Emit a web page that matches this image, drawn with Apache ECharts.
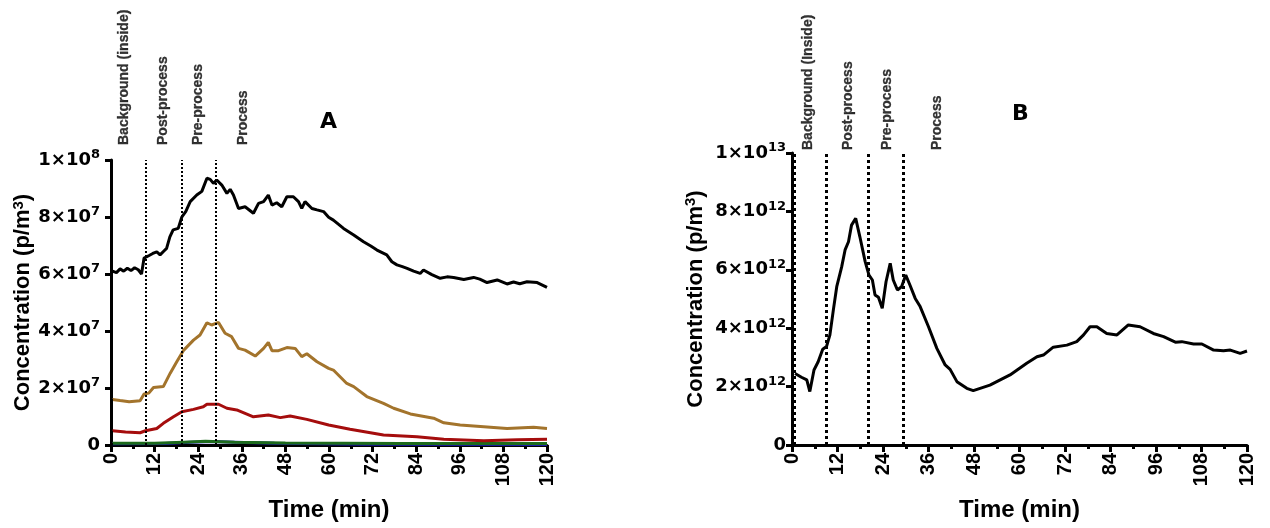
<!DOCTYPE html>
<html>
<head>
<meta charset="utf-8">
<script src="https://cdn.jsdelivr.net/npm/echarts@6/dist/echarts.min.js"></script>
<style>
  html, body { margin: 0; padding: 0; background: #fff; }
  #chart { width: 1270px; height: 528px; }
</style>
</head>
<body>
<div id="chart"></div>
<script>
// 데이터 (time in min, value in p/m3)
var xTicks = [0, 12, 24, 36, 48, 60, 72, 84, 96, 108, 120];

var phaseNames = ['Background (inside)', 'Post-process', 'Pre-process', 'Process'];
var phaseNamesB = ['Background (Inside)', 'Post-process', 'Pre-process', 'Process'];
var phaseLabelTimeA = [3.6, 14.3, 24, 36.4];
var phaseLabelTimeB = [4.2, 14.8, 25.1, 38.3];
var phaseLineA = [0.3, 9.5, 19.5, 28.7];
var phaseLineB = [0.7, 9.1, 20.2, 29.3];

var blackA = [
  [0.4, 6.1e7], [1.5, 6.05e7], [2.5, 6.18e7], [3.5, 6.1e7], [4.5, 6.2e7], [5.5, 6.12e7], [6.5, 6.22e7],
  [7.5, 6.15e7], [8.4, 6.0e7], [9.1, 6.56e7], [10.5, 6.65e7], [11.5, 6.72e7], [12.6, 6.78e7],
  [13.5, 6.67e7], [14.5, 6.8e7], [15.3, 6.9e7], [16.2, 7.3e7], [17.1, 7.55e7], [18.5, 7.6e7],
  [19.5, 8.0e7], [20.6, 8.2e7], [21.8, 8.54e7], [23.6, 8.77e7], [25, 8.9e7], [26.4, 9.36e7],
  [27.3, 9.32e7], [28.2, 9.18e7], [29.1, 9.3e7], [30.5, 9.12e7], [31.9, 8.83e7], [32.8, 8.97e7],
  [33.7, 8.77e7], [35.1, 8.3e7], [36.9, 8.36e7], [39.2, 8.13e7], [40.6, 8.48e7], [42, 8.54e7],
  [43.3, 8.77e7], [44.3, 8.42e7], [45.6, 8.5e7], [47, 8.36e7], [48.4, 8.71e7], [50.2, 8.71e7],
  [51.6, 8.54e7], [52.5, 8.3e7], [53.4, 8.54e7], [55.3, 8.3e7], [56.7, 8.25e7], [58.5, 8.19e7],
  [59.9, 7.99e7], [61.2, 7.89e7], [64, 7.6e7], [66.8, 7.37e7], [69.5, 7.13e7], [71.5, 6.98e7],
  [73.2, 6.84e7], [75.9, 6.67e7], [77.3, 6.43e7], [78.7, 6.32e7], [80.2, 6.26e7], [81.5, 6.2e7],
  [83.3, 6.1e7], [85.1, 6.02e7], [86, 6.14e7], [88.3, 5.98e7], [90.6, 5.85e7], [92.5, 5.9e7],
  [94.3, 5.88e7], [97.1, 5.81e7], [99.8, 5.88e7], [101.5, 5.82e7], [103.5, 5.7e7], [106.3, 5.79e7],
  [109, 5.65e7], [110.8, 5.72e7], [112.5, 5.66e7], [114.5, 5.73e7], [117.3, 5.7e7], [120, 5.53e7]
];

var brownA = [
  [0.4, 1.6e7], [2.5, 1.56e7], [5, 1.52e7], [8, 1.55e7], [9.1, 1.79e7], [10.4, 1.82e7],
  [11.7, 2.02e7], [14.4, 2.05e7], [16.3, 2.52e7], [18.1, 2.92e7], [19.9, 3.31e7], [22.7, 3.68e7],
  [24.5, 3.86e7], [26.4, 4.29e7], [27.7, 4.21e7], [29.6, 4.3e7], [31.4, 3.92e7], [33.2, 3.8e7],
  [35.1, 3.39e7], [36.9, 3.33e7], [39.7, 3.12e7], [42, 3.39e7], [43.3, 3.6e7], [44.3, 3.31e7],
  [46.1, 3.31e7], [48.4, 3.42e7], [50.7, 3.39e7], [52.5, 3.1e7], [53.9, 3.2e7], [56.7, 2.92e7],
  [59.9, 2.69e7], [61.2, 2.63e7], [64.9, 2.16e7], [66.8, 2.05e7], [70.4, 1.7e7], [75, 1.46e7],
  [77.8, 1.29e7], [82.4, 1.09e7], [88.8, 0.94e7], [91.6, 0.78e7], [96.1, 0.7e7], [102.6, 0.64e7],
  [109, 0.58e7], [116.3, 0.62e7], [120, 0.58e7]
];

var redA = [
  [0.4, 0.5e7], [4, 0.46e7], [8, 0.43e7], [9.5, 0.5e7], [12.6, 0.58e7], [14.4, 0.76e7],
  [17.2, 0.99e7], [19.5, 1.17e7], [22.7, 1.25e7], [25.4, 1.34e7], [26.4, 1.43e7], [29.6, 1.43e7],
  [31.9, 1.29e7], [34.6, 1.23e7], [39.2, 0.99e7], [43.3, 1.05e7], [46.6, 0.96e7], [49.3, 1.02e7],
  [53.9, 0.9e7], [59.9, 0.7e7], [65.8, 0.55e7], [75, 0.35e7], [84.2, 0.29e7], [91.6, 0.2e7],
  [102.6, 0.15e7], [111.8, 0.18e7], [120, 0.2e7]
];

var blueA = [
  [0.4, 0.04e7], [15, 0.05e7], [22, 0.1e7], [28, 0.12e7], [34, 0.1e7], [45, 0.06e7],
  [70, 0.03e7], [120, 0.02e7]
];

var greenA = [
  [0.4, 0.06e7], [12, 0.06e7], [20, 0.1e7], [26, 0.13e7], [34, 0.1e7], [48, 0.07e7],
  [80, 0.05e7], [120, 0.05e7]
];

var blackB = [
  [0.8, 2.45e12], [2.5, 2.32e12], [3.9, 2.23e12], [4.7, 1.83e12], [5.8, 2.57e12], [6.9, 2.85e12],
  [8.1, 3.28e12], [9.1, 3.37e12], [10, 3.77e12], [10.9, 4.62e12], [11.8, 5.42e12], [13.1, 6.1e12],
  [14, 6.68e12], [14.9, 6.96e12], [15.7, 7.53e12], [16.8, 7.76e12], [17.9, 7.13e12], [19.3, 6.28e12],
  [20.3, 5.82e12], [21.2, 5.65e12], [21.9, 5.14e12], [22.8, 5.06e12], [23.8, 4.68e12], [24.8, 5.59e12],
  [25.9, 6.22e12], [26.7, 5.65e12], [27.8, 5.31e12], [28.9, 5.42e12], [30, 5.82e12], [31.1, 5.48e12],
  [32.5, 5.02e12], [33.8, 4.74e12], [36, 4.05e12], [38.2, 3.31e12], [40.4, 2.74e12], [41.7, 2.59e12],
  [43.5, 2.17e12], [46.1, 1.94e12], [47.8, 1.86e12], [49.6, 1.94e12], [52.2, 2.05e12], [57.5, 2.4e12],
  [61.9, 2.8e12], [64.6, 3.02e12], [66.3, 3.08e12], [68.9, 3.35e12], [72.5, 3.42e12], [75.1, 3.54e12],
  [76.9, 3.77e12], [78.6, 4.05e12], [80.4, 4.05e12], [83, 3.82e12], [85.7, 3.77e12], [88.7, 4.11e12],
  [91.8, 4.05e12], [95.3, 3.82e12], [98, 3.71e12], [101.1, 3.52e12], [102.8, 3.54e12], [105.9, 3.46e12],
  [108.1, 3.46e12], [111.2, 3.25e12], [113.8, 3.23e12], [115.6, 3.25e12], [118.2, 3.14e12], [120, 3.22e12]
];

$ = window.$ || function (fn) { fn(); };

$(function () {

    var myChart = echarts.init(document.getElementById('chart'));

    var arial = 'Liberation Sans, Arial, sans-serif';
    var wide = 'DejaVu Sans, sans-serif';

    function sciLabel(v) {
        if (v === 0) return '{b|0}';
        var exp = Math.floor(Math.log10(v) + 1e-9);
        var m = Math.round(v / Math.pow(10, exp));
        return '{b|' + m + '×10}{s|' + exp + '}';
    }

    var richSci = {
        b: { fontSize: 18, fontWeight: 'bold', color: '#000', fontFamily: wide },
        s: { fontSize: 13, fontWeight: 'bold', color: '#000', fontFamily: wide, padding: [0, 0, 10, 0] }
    };

    function xAxisOpt(grid) {
        return {
            type: 'value', gridIndex: grid, min: 0, max: 120, interval: 12,
            axisLine: { lineStyle: { color: '#000', width: 3 } },
            axisTick: { length: 7, lineStyle: { color: '#000', width: 3 } },
            minorTick: { show: true, splitNumber: 2, length: 4, lineStyle: { color: '#000', width: 3 } },
            splitLine: { show: false },
            axisLabel: {
                rotate: 90, color: '#000', fontSize: 20, fontWeight: 'bold',
                fontFamily: arial, margin: 8,
                formatter: function (v) { return xTicks.indexOf(v) >= 0 ? String(v) : ''; }
            },
            name: 'Time (min)', nameLocation: 'middle', nameGap: 53,
            nameTextStyle: { color: '#000', fontSize: 24, fontWeight: 'bold', fontFamily: arial }
        };
    }

    function yAxisOpt(grid, max, offset, gap) {
        return {
            type: 'value', gridIndex: grid, min: 0, max: max, interval: max / 5,
            offset: offset,
            axisLine: { show: true, lineStyle: { color: '#000', width: 3 } },
            axisTick: { show: true, length: 6, lineStyle: { color: '#000', width: 3 } },
            splitLine: { show: false },
            axisLabel: { formatter: sciLabel, rich: richSci, margin: 6 },
            name: 'Concentration (p/m{s|3})', nameLocation: 'middle', nameRotate: 90, nameGap: gap,
            nameTextStyle: {
                color: '#000', fontSize: 22, fontWeight: 'bold', fontFamily: arial,
                rich: {
                    s: { fontSize: 15, fontWeight: 'bold', color: '#000', fontFamily: arial, padding: [0, 0, 10, 0] }
                }
            }
        };
    }

    function phaseMarks(times, width) {
        return {
            silent: true, symbol: 'none',
            label: { show: false },
            lineStyle: { color: '#000', type: 'dotted', width: width },
            data: times.map(function (t) { return { xAxis: t }; })
        };
    }

    function phaseLabels(idx, times, names, top, dist) {
        return {
            type: 'scatter', xAxisIndex: idx, yAxisIndex: idx,
            symbolSize: 0, silent: true, clip: false, z: 5,
            data: times.map(function (t, i) { return { name: names[i], value: [t, top] }; }),
            label: {
                show: true, position: [0, -dist], rotate: 90,
                align: 'left', verticalAlign: 'middle',
                formatter: '{b}', color: '#000', fontSize: 14, fontWeight: 'bold', fontFamily: arial,
                textBorderColor: '#000', textBorderWidth: 0.3
            }
        };
    }

    function lineSeries(idx, data, color, width, z) {
        return {
            type: 'line', xAxisIndex: idx, yAxisIndex: idx, data: data,
            showSymbol: false, symbol: 'none', z: z,
            lineStyle: { color: color, width: width }, color: color
        };
    }

    option = {
        animation: false,
        backgroundColor: '#fff',
        title: [
            { text: 'A', left: 315, top: 106, textStyle: { fontSize: 22, fontWeight: 'bold', color: '#000', fontFamily: wide } },
            { text: 'B', left: 1007, top: 98, textStyle: { fontSize: 22, fontWeight: 'bold', color: '#000', fontFamily: wide } }
        ],
        grid: [
            { left: 111, right: 723, top: 160, bottom: 83 },
            { left: 792, right: 23, top: 153, bottom: 83 }
        ],
        xAxis: [xAxisOpt(0), xAxisOpt(1)],
        yAxis: [yAxisOpt(0, 1e8, 5, 65), yAxisOpt(1, 1e13, 0, 84)],
        series: [
            (function () {
                var s = lineSeries(0, greenA, '#1d6b1d', 3, 3);
                s.markLine = phaseMarks(phaseLineA, 2);
                return s;
            })(),
            lineSeries(0, blueA, '#1a1aa8', 3, 2),
            lineSeries(0, redA, '#a50d0d', 3, 4),
            lineSeries(0, brownA, '#a3742c', 3, 4),
            lineSeries(0, blackA, '#000', 3, 4),
            (function () {
                var s = lineSeries(1, blackB, '#000', 3, 4);
                s.markLine = phaseMarks(phaseLineB, 3);
                return s;
            })(),
            phaseLabels(0, phaseLabelTimeA, phaseNames, 1e8, 15),
            phaseLabels(1, phaseLabelTimeB, phaseNamesB, 1e13, 3)
        ]
    };

    myChart.setOption(option);

    window.addEventListener('resize', function () {
        myChart.resize();
    });
});
</script>
</body>
</html>
